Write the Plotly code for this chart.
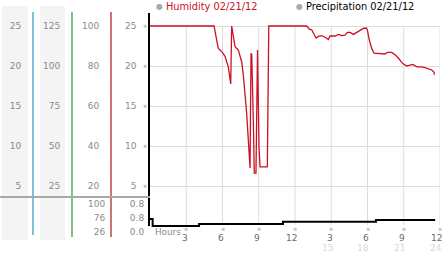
import plotly.graph_objects as go

W, H = 442, 253
def fx(p):
    return p / W
def fy(p):
    return 1 - p / H

# ---------------- data ----------------
hum_hours = [0, 5.30, 5.65, 5.94, 6.21, 6.48, 6.68, 6.76, 7.04, 7.31, 7.59, 7.72, 8.00,
             8.22, 8.28, 8.36, 8.42, 8.55, 8.63, 8.77, 8.90, 9.02, 9.11, 9.71, 9.77, 9.83,
             12.97, 13.19, 13.39, 13.52, 13.74, 13.93, 14.21, 14.49, 14.76, 14.90, 15.31,
             15.59, 15.87, 16.14, 16.33, 16.56, 16.83, 17.11, 17.38, 17.66, 17.88, 17.99,
             18.15, 18.35, 18.54, 19.04, 19.45, 19.64, 20.01, 20.28, 20.55, 20.92, 21.25,
             21.52, 21.75, 22.08, 22.49, 22.76, 23.04, 23.32, 23.51, 23.53]
hum_vals = [25, 25, 22.2, 21.8, 21.2, 19.9, 17.75, 25, 22.4, 22.0, 20.5, 18.9, 14.1,
            8.9, 7.25, 21.6, 21.4, 13.25, 6.6, 6.6, 22.0, 9.9, 7.4, 7.4, 16.2, 25,
            25, 24.6, 24.5, 24.1, 23.5, 23.7, 23.8, 23.6, 23.3, 23.75, 23.75,
            23.95, 23.8, 23.85, 24.2, 24.2, 23.95, 24.2, 24.5, 24.7, 24.75, 24.5,
            23.25, 22.2, 21.6, 21.5, 21.5, 21.7, 21.7, 21.4, 21.0, 20.3, 20.0,
            20.1, 20.2, 19.9, 19.9, 19.8, 19.6, 19.5, 19.2, 18.9]

precip_hours = [0.0, 0.22, 4.06, 11.0, 18.7, 23.6]
precip_vals = [0.37, 0.17, 0.23, 0.29, 0.34, 0.34]

x_ticks = [3, 6, 9, 12, 15, 18, 21, 24]
x_tick_text = ["3", "6", "9", "12", "3", "6", "9", "12"]
x_ticks_2 = [15, 18, 21, 24]
x_tick_text_2 = ["15", "18", "21", "24"]

hum_ticks = [25, 20, 15, 10, 5]
col1_ticks = [25, 20, 15, 10, 5]
col2_ticks = [125, 100, 75, 50, 25]
col3_ticks = [100, 80, 60, 40, 20]
precip_ticks = [0.8, 0.4, 0.0]
precip_tick_text = ["0.8", "0.8", "0.0"]
precip_tick_text_b = ["100", "76", "26"]

legend_names = ["Humidity 02/21/12", "Precipitation 02/21/12"]

# ---------------- styles ----------------
FONT = "DejaVu Sans"
GREY = "#8a8a8a"
RED = "#cc1025"
HUM_TOP = 26.625

fig = go.Figure()
fig.add_trace(go.Scatter(x=hum_hours, y=hum_vals, mode="lines",
                         line=dict(color=RED, width=1.3), showlegend=False,
                         hoverinfo="skip", xaxis="x", yaxis="y"))
fig.add_trace(go.Scatter(x=precip_hours, y=precip_vals, mode="lines",
                         line=dict(color="black", width=2, shape="hv"), showlegend=False,
                         hoverinfo="skip", xaxis="x", yaxis="y2"))
for ax in ["y3", "y4", "y5", "y6"]:
    fig.add_trace(go.Scatter(x=[None], y=[None], xaxis="x", yaxis=ax,
                             showlegend=False, hoverinfo="skip"))

tick_common = dict(ticks="outside", tickcolor="rgba(0,0,0,0)", showgrid=False,
                   zeroline=False, showline=False, automargin=False,
                   tickfont=dict(family=FONT, size=9, color=GREY))

fig.update_layout(
    width=W, height=H, margin=dict(l=0, r=0, t=0, b=0, pad=0, autoexpand=False),
    paper_bgcolor="white", plot_bgcolor="rgba(0,0,0,0)",
    showlegend=False,
    xaxis=dict(domain=[fx(150), fx(440)], range=[0, 24], anchor="y",
               tickmode="array", tickvals=x_ticks, showticklabels=False,
               ticks="", showgrid=False, zeroline=False, showline=False,
               automargin=False),
    yaxis=dict(domain=[fy(226), fy(13)], range=[0, HUM_TOP], anchor="x",
               tickmode="array", tickvals=hum_ticks, ticklen=10,
               showgrid=True, gridcolor="#dddddd", gridwidth=1,
               showline=True, linecolor="black", linewidth=1.5, zeroline=False,
               ticks="outside", tickcolor="rgba(0,0,0,0)", automargin=False,
               tickfont=dict(family=FONT, size=9, color=GREY)),
    yaxis2=dict(domain=[fy(232), fy(197)], range=[0, 1.0], anchor="x",
                tickmode="array", tickvals=precip_ticks, ticktext=precip_tick_text,
                ticklen=3, **tick_common),
    yaxis3=dict(overlaying="y", anchor="free", position=fx(33), side="left",
                range=[0, HUM_TOP], tickmode="array", tickvals=col1_ticks,
                ticklen=10, **tick_common),
    yaxis4=dict(overlaying="y", anchor="free", position=fx(72), side="left",
                range=[0, HUM_TOP * 5], tickmode="array", tickvals=col2_ticks,
                ticklen=10, **tick_common),
    yaxis5=dict(overlaying="y", anchor="free", position=fx(111), side="left",
                range=[0, HUM_TOP * 4], tickmode="array", tickvals=col3_ticks,
                ticklen=10, **tick_common),
    yaxis6=dict(overlaying="y2", anchor="free", position=fx(111), side="left",
                range=[0, 1.0], tickmode="array", tickvals=precip_ticks,
                ticktext=precip_tick_text_b, ticklen=4, **tick_common),
)

shapes = []
# light grey column backgrounds
for x0, x1 in [(2, 28), (40, 65)]:
    shapes.append(dict(type="rect", xref="paper", yref="paper", x0=fx(x0), x1=fx(x1),
                       y0=fy(240), y1=fy(6), fillcolor="#f4f4f4", line=dict(width=0),
                       layer="below"))
# vertical gridlines
for t in x_ticks:
    shapes.append(dict(type="line", xref="x", yref="paper", x0=t, x1=t,
                       y0=fy(225), y1=fy(26), line=dict(color="#dddddd", width=1),
                       layer="below"))
# coloured axis lines of the left scales
for xp, col, yb in [(33, "#3a9fc6", 235), (72, "#3aa53a", 237), (111, "#b02a2a", 237)]:
    shapes.append(dict(type="line", xref="paper", yref="paper", x0=fx(xp), x1=fx(xp),
                       y0=fy(yb), y1=fy(12), line=dict(color=col, width=1.3)))
# separator
shapes.append(dict(type="line", xref="paper", yref="paper", x0=0, x1=fx(150),
                   y0=fy(197), y1=fy(197), line=dict(color="#a8a8a8", width=2)))
fig.update_layout(shapes=shapes)

ann = []
# legend
leg_x = [(159, 165, RED), (299, 305, "black")]
for (cx, tx, col), name in zip(leg_x, legend_names):
    ann.append(dict(xref="paper", yref="paper", x=fx(cx), y=fy(7), text="●",
                    showarrow=False, xanchor="center", yanchor="middle", borderpad=0,
                    font=dict(family=FONT, size=8, color="#aaaaaa")))
    ann.append(dict(xref="paper", yref="paper", x=fx(tx), y=fy(7), text=name,
                    showarrow=False, xanchor="left", yanchor="middle", borderpad=0,
                    font=dict(family=FONT, size=9.8, color=col)))
# small tick glyphs
for v in hum_ticks:
    ann.append(dict(xref="paper", yref="y", x=fx(145), y=v, text="※", showarrow=False,
                    xanchor="center", yanchor="middle", borderpad=0,
                    font=dict(family=FONT, size=5, color="#999999")))
for t in x_ticks:
    ann.append(dict(xref="x", yref="paper", x=t, y=fy(229), text="※", showarrow=False,
                    xanchor="center", yanchor="middle", borderpad=0,
                    font=dict(family=FONT, size=5, color="#999999")))
# hour labels (two rows, right aligned just past each tick)
for t, s in zip(x_ticks, x_tick_text):
    ann.append(dict(xref="x", yref="paper", x=t, y=fy(238), text=s, showarrow=False,
                    xanchor="right", yanchor="middle", xshift=2.5, borderpad=0,
                    font=dict(family=FONT, size=9, color="#6a6a6a")))
for t, s in zip(x_ticks_2, x_tick_text_2):
    ann.append(dict(xref="x", yref="paper", x=t, y=fy(247.5), text=s, showarrow=False,
                    xanchor="right", yanchor="middle", xshift=2.5, borderpad=0,
                    font=dict(family=FONT, size=9, color="#d8d8d8")))
ann.append(dict(xref="paper", yref="paper", x=fx(154), y=fy(231.5), text="Hours",
                showarrow=False, xanchor="left", yanchor="middle", borderpad=0,
                font=dict(family=FONT, size=8.8, color=GREY)))
fig.update_layout(annotations=ann)

fig.write_html("out.html")
